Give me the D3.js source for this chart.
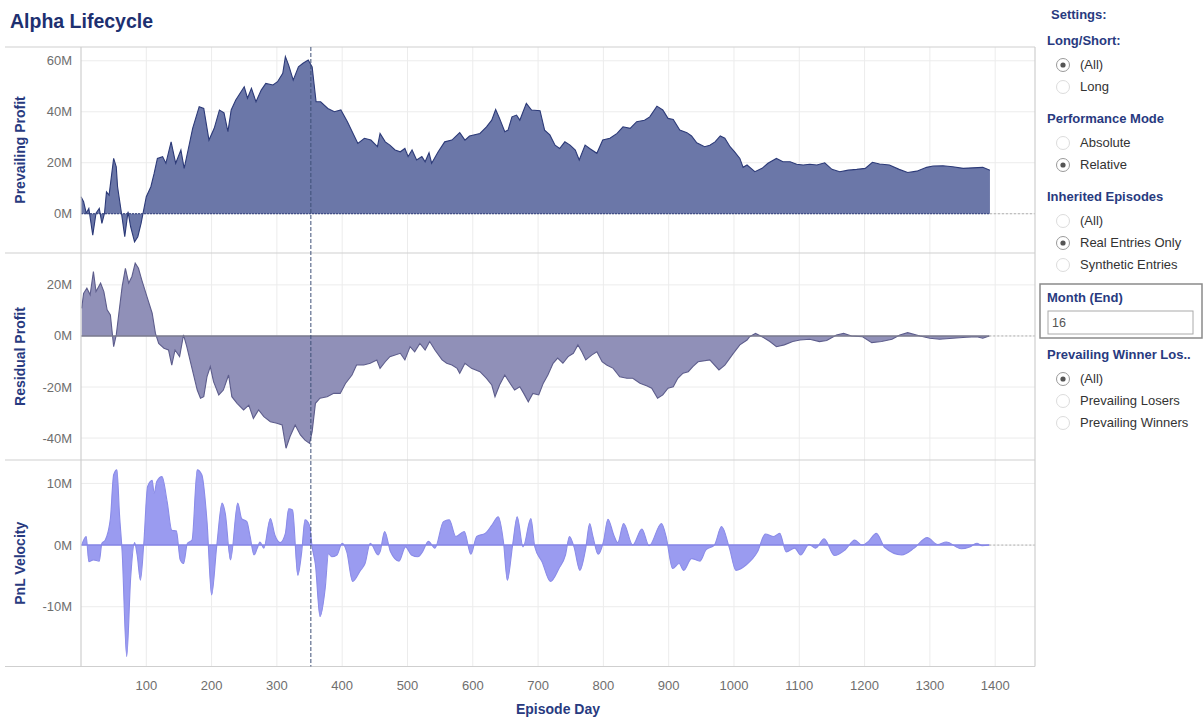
<!DOCTYPE html>
<html>
<head>
<meta charset="utf-8">
<script src="https://cdnjs.cloudflare.com/ajax/libs/d3/7.8.5/d3.min.js"></script>
<style>
  body { margin: 0; background: #fff; font-family: "Liberation Sans", Arial, sans-serif; }
</style>
</head>
<body>
<div id="chart-area"></div>
<script>
// DATA
// ****

// Prevailing Profit (M) by episode day
const profitDays = [0,4,8,12,18,23,28,32,36,39,43,50,54,56,62,67,72,76,82,87,92,100,107,112,117,125,130,138,145,153,158,164,171,181,188,196,204,212,219,225,230,237,250,255,261,268,276,283,294,301,309,313,318,325,333,340,348,354,360,367,378,388,398,408,424,434,444,454,458,466,473,481,489,496,501,507,514,522,527,533,537,547,557,568,580,588,595,611,621,629,635,641,649,654,660,667,672,682,690,703,710,718,726,733,741,749,757,763,772,779,790,799,810,821,830,841,851,863,871,882,891,899,907,917,928,935,943,955,963,971,979,986,994,1001,1009,1014,1020,1032,1043,1052,1065,1075,1086,1096,1106,1116,1127,1139,1150,1162,1175,1188,1201,1212,1223,1238,1253,1266,1280,1295,1305,1320,1335,1351,1366,1381,1392]
const profitVals = [6.7,4.7,0.2,2.1,-8.4,0.2,2.1,-3.8,0.2,8.6,7.3,21.7,18.4,10.6,0.2,-9,0.8,-5.1,-11,-9,-3.8,6.7,10.6,15.8,21.7,22.4,19.8,28.2,19.8,25,17.8,25,33.5,42,41.3,28.9,33.5,40.7,39.6,32.2,40.7,44.6,49.8,45.3,49.2,43.9,48.5,51.1,50.5,51.8,55.1,61.6,58.3,52.4,57.6,59,60.3,57.6,43.9,43.9,41.3,40,40.7,36.1,27.6,29.6,28.9,26.3,31.5,28.2,26.9,25,24.3,25.6,22.4,25,21.1,22.4,20.4,23.9,19.8,24.3,28.2,28.9,31.8,28.9,30.5,31.5,34.1,36.7,40.9,37.4,32.2,32.8,38,38.7,36.7,43.3,40.7,40.4,32.8,30.9,26.9,25.6,28.2,26.9,25,21.1,26.9,25.6,23.7,28.9,29.6,31.5,34.1,33.5,36.1,36.7,38,42.2,40.7,37.4,37,32.8,31.8,30.5,27.8,26.3,26.9,28.2,30.5,29.6,26.3,24.3,21.7,18.2,19.1,16.5,17.8,19.8,21.7,20.4,20.4,19.4,19.1,19.4,19.1,20,17.4,16.5,17.1,17.4,17.8,20.2,19.5,19.1,17.4,16.2,16.7,18.2,18.7,18.8,18.4,17.8,18,18.2,17.1]

// Residual Profit (M)
const residDays = [1,4,9,14,19,23,30,35,40,45,50,54,58,63,68,73,78,83,88,93,101,109,114,119,127,134,139,144,151,157,162,170,178,183,188,193,198,203,211,218,226,231,239,249,257,264,272,280,290,300,308,314,320,328,336,343,350,354,359,366,377,387,397,405,415,422,433,443,453,458,466,473,481,489,496,504,511,519,527,534,542,553,560,568,576,580,588,598,611,621,629,634,641,649,657,664,672,678,685,692,701,708,715,723,730,738,746,754,761,767,773,782,790,798,805,815,825,836,845,856,867,874,883,891,899,907,914,922,930,937,945,963,977,986,999,1009,1020,1024,1033,1043,1055,1065,1077,1090,1101,1116,1131,1142,1157,1168,1180,1197,1211,1226,1242,1254,1266,1285,1300,1315,1335,1356,1372,1381,1391]
const residVals = [10.8,16.7,18.7,16.1,25.2,17.4,20.7,17.4,10.2,8.2,-4.2,0.4,8.9,19.3,26.5,20.7,23.3,28.5,26.5,22,15.4,8.9,1,-2.9,-4.8,-5.5,-11.4,-5.5,-8.1,0.4,-4.2,-12.7,-21.2,-24.4,-23.8,-15.9,-12,-17.9,-23.1,-21.2,-15.3,-23.8,-26.4,-29,-27.1,-32.3,-29,-31.6,-33.6,-34.2,-34.9,-44,-39.5,-34.9,-38.8,-40.8,-42.1,-37.5,-26.4,-24.4,-23.8,-22.5,-22.5,-18.6,-15.3,-11.4,-11.4,-10.7,-9.4,-12.7,-10.1,-8.1,-7.5,-6.8,-9.4,-4.2,-6.2,-2.9,-5.5,-2.2,-5.5,-9.4,-10.7,-11.4,-12.7,-14.6,-10.7,-12.7,-14,-16.6,-19.2,-23.8,-19.2,-15.3,-18.5,-21.2,-19.9,-22.5,-25.8,-22.5,-23.1,-18.5,-15.3,-10.7,-8.7,-10.7,-8.1,-6.8,-3.5,-6.2,-9.4,-7.5,-6.2,-10.1,-11.4,-12.7,-16,-16.6,-16.6,-18.5,-19.6,-20.5,-24.4,-23.1,-20.5,-19.9,-16.6,-14.6,-14,-12,-10.1,-9.4,-13.3,-11.4,-6.8,-3.5,-1.6,-0.3,1,-0.3,-2.2,-4.2,-3.5,-2.2,-1.6,-1.3,-2.2,-1.8,0.4,1,0,-0.3,-2.6,-2.2,-1.3,0.4,1.3,0,-0.9,-1.3,-0.9,-0.5,-0.3,-0.9,0]

// PnL Velocity (M)
const velDays = [1,8,12,19,28,32,37,45,50,55,59,63,70,76,82,86,91,96,102,109,112,116,124,132,139,146,152,157,163,170,178,185,193,200,208,216,221,229,240,246,254,259,265,270,274,280,290,297,305,313,318,324,332,338,343,350,354,359,366,374,379,384,392,400,407,416,428,435,443,455,458,465,474,487,497,506,516,523,532,542,555,564,574,587,597,606,619,629,639,647,653,661,668,677,689,695,706,719,732,742,748,755,764,773,779,784,792,800,807,816,822,831,845,859,870,889,896,906,916,923,935,948,957,970,981,993,1003,1019,1036,1048,1061,1070,1080,1093,1102,1115,1125,1138,1154,1170,1185,1196,1206,1218,1231,1257,1276,1296,1312,1325,1348,1361,1372,1380,1391]
const velVals = [0,1.4,-2.7,-2.4,-2.6,0.3,0.8,4.3,11.4,12.2,4.9,-1.1,-18.1,-5.4,0.4,-1.6,-5.7,0,9.5,10.5,8.4,10.3,11.1,7,2.4,2.3,-2.4,-3,0.3,0.8,12.2,11.4,3.8,-8.1,0,6.8,5.1,-2.4,6.8,4.3,3.8,1.4,-1.6,-0.5,0.5,-0.5,4.3,1.6,0.4,1.9,5.9,5.7,-4.9,-1.1,4.1,3.2,-0.3,-3.2,-11.6,-7,-1.4,-1.9,-1.6,0.3,-1.1,-5.9,-4.1,-3,0.3,-1.6,-1.1,2.2,-1.1,-2.6,-0.3,-1.6,-1.9,-1.1,0.6,-0.5,3.8,4.1,1.4,2.2,-1.5,1.4,1.9,3.2,4.6,0.5,-5.7,0,4.6,-0.3,4.3,-0.3,-2.7,-5.9,-3.8,-1.6,1.4,-0.3,-4.1,-0.5,3.5,1.4,-1.5,0.5,4.2,1.6,0.4,3.5,0,2.6,-0.1,3.5,1.4,-3.8,-3,-4.1,-2.2,-2.6,-0.8,0,3,-0.5,-4.1,-3.2,-1.1,1.8,1.4,1.9,-1.1,-0.5,-1.6,0.1,-0.5,1,-1.7,-0.8,0.8,0,0.6,1.9,-0.4,-1.6,-0.5,1.2,0.1,0.5,-0.6,-0.3,0.3,-0.1,0]

const xTicks = [100,200,300,400,500,600,700,800,900,1000,1100,1200,1300,1400]
const markerDay = 352

// settings panel
const settingGroups = [
  { title: "Long/Short:", options: ["(All)", "Long"], selected: 0 },
  { title: "Performance Mode", options: ["Absolute", "Relative"], selected: 1 },
  { title: "Inherited Episodes", options: ["(All)", "Real Entries Only", "Synthetic Entries"], selected: 1 },
  { title: "Prevailing Winner Los..", options: ["(All)", "Prevailing Losers", "Prevailing Winners"], selected: 0 }
]

// CHART
// *****

const W = 1204, H = 717
const left = 81, right = 1035, bottom = 666.5
const svg = d3.select("#chart-area").append("svg").attr("width", W).attr("height", H)
const font = "Liberation Sans, Arial, sans-serif"
const navy = "#283a80"

const x = d3.scaleLinear().domain([0, 1461]).range([left, right])

const panels = [
  { name: "Prevailing Profit", days: profitDays, vals: profitVals, top: 47, bot: 253,
    domain: [-15.4, 65.4], ticks: [0, 20, 40, 60], fill: "#6b77a8", stroke: "#2c3a78",
    zero: "#2c3a78", zeroDash: "2,1", curve: d3.curveLinear },
  { name: "Residual Profit", days: residDays, vals: residVals, top: 253, bot: 460,
    domain: [-48.6, 32.5], ticks: [-40, -20, 0, 20], fill: "#9090b8", stroke: "#5d5d8c",
    zero: "#7a7a8e", zeroDash: null, curve: d3.curveLinear },
  { name: "PnL Velocity", days: velDays, vals: velVals, top: 460, bot: bottom,
    domain: [-19.7, 13.8], ticks: [-10, 0, 10], fill: "#9a9bf0", stroke: "#8b8ce8",
    zero: "#8485e6", zeroDash: null, curve: d3.curveMonotoneX }
]

// title
svg.append("text").attr("x", 10).attr("y", 28).text("Alpha Lifecycle")
  .attr("font-family", font).attr("font-size", 19.5).attr("font-weight", "bold").attr("fill", "#1d3070")

// vertical grid
svg.selectAll(".vgrid").data(xTicks).enter().append("line")
  .attr("x1", d => x(d)).attr("x2", d => x(d))
  .attr("y1", 47).attr("y2", bottom)
  .attr("stroke", "#ececec").attr("stroke-width", 1)

panels.forEach(p => {
  const y = d3.scaleLinear().domain(p.domain).range([p.bot, p.top])
  const g = svg.append("g")

  // horizontal grid
  g.selectAll("line.h").data(p.ticks).enter().append("line")
    .attr("x1", left).attr("x2", right)
    .attr("y1", d => y(d)).attr("y2", d => y(d))
    .attr("stroke", "#ececec")

  // y axis labels
  g.selectAll("text.t").data(p.ticks).enter().append("text")
    .attr("x", 72).attr("y", d => y(d) + 4.5)
    .attr("text-anchor", "end").text(d => d + "M")
    .attr("font-family", font).attr("font-size", 13).attr("fill", "#6e6e6e")

  // axis title
  g.append("text")
    .attr("transform", `translate(25,${(p.top + p.bot) / 2}) rotate(-90)`)
    .attr("text-anchor", "middle").text(p.name)
    .attr("font-family", font).attr("font-size", 14).attr("font-weight", "bold").attr("fill", navy)

  const pts = p.days.map((d, i) => [d, p.vals[i]])
  const area = d3.area().x(d => x(d[0])).y0(y(0)).y1(d => y(d[1])).curve(p.curve)
  const line = d3.line().x(d => x(d[0])).y(d => y(d[1])).curve(p.curve)

  g.append("path").attr("d", area(pts)).attr("fill", p.fill)
  g.append("path").attr("d", line(pts)).attr("fill", "none")
    .attr("stroke", p.stroke).attr("stroke-width", 1.1)

  // zero line
  const lastDay = d3.max(p.days)
  g.append("line").attr("x1", left).attr("x2", x(lastDay))
    .attr("y1", y(0)).attr("y2", y(0))
    .attr("stroke", p.zero).attr("stroke-width", p.zeroDash ? 1 : 1.5)
    .attr("stroke-dasharray", p.zeroDash)
  g.append("line").attr("x1", x(lastDay)).attr("x2", right)
    .attr("y1", y(0)).attr("y2", y(0))
    .attr("stroke", "#b0b0b0").attr("stroke-width", 1).attr("stroke-dasharray", "2,2")
})

// panel borders
;[47, 253, 460, bottom].forEach(yy => {
  svg.append("line").attr("x1", 5).attr("x2", right).attr("y1", yy).attr("y2", yy)
    .attr("stroke", "#cfcfcf").attr("stroke-width", 1.2)
})
svg.append("line").attr("x1", left).attr("x2", left).attr("y1", 47).attr("y2", bottom)
  .attr("stroke", "#cfcfcf").attr("stroke-width", 1.2)
svg.append("line").attr("x1", right).attr("x2", right).attr("y1", 47).attr("y2", bottom)
  .attr("stroke", "#cfcfcf").attr("stroke-width", 1.2)

// marker line
svg.append("line").attr("x1", x(markerDay)).attr("x2", x(markerDay))
  .attr("y1", 47).attr("y2", bottom)
  .attr("stroke", "#3e5078").attr("stroke-width", 1).attr("stroke-dasharray", "4,2")

// x axis labels
svg.selectAll(".xt").data(xTicks).enter().append("text")
  .attr("x", d => x(d)).attr("y", 690).attr("text-anchor", "middle").text(d => d)
  .attr("font-family", font).attr("font-size", 13).attr("fill", "#6e6e6e")
svg.append("text").attr("x", 558).attr("y", 714).attr("text-anchor", "middle").text("Episode Day")
  .attr("font-family", font).attr("font-size", 14).attr("font-weight", "bold").attr("fill", navy)

// SETTINGS PANEL
// **************

const side = svg.append("g").attr("font-family", font)
side.append("text").attr("x", 1051).attr("y", 19).text("Settings:")
  .attr("font-size", 13).attr("font-weight", "bold").attr("fill", navy)

function radioGroup(grp, y0) {
  side.append("text").attr("x", 1047).attr("y", y0).text(grp.title)
    .attr("font-size", 13).attr("font-weight", "bold").attr("fill", navy)
  grp.options.forEach((o, i) => {
    const cy = y0 + 24 + i * 22
    side.append("circle").attr("cx", 1063).attr("cy", cy - 4).attr("r", 6.5)
      .attr("fill", "#fff").attr("stroke", i === grp.selected ? "#9a9a9a" : "#dcdcdc")
    if (i === grp.selected)
      side.append("circle").attr("cx", 1063).attr("cy", cy - 4).attr("r", 2.6).attr("fill", "#555")
    side.append("text").attr("x", 1080).attr("y", cy).text(o)
      .attr("font-size", 13).attr("fill", "#333")
  })
}
radioGroup(settingGroups[0], 45)
radioGroup(settingGroups[1], 123)
radioGroup(settingGroups[2], 201)
radioGroup(settingGroups[3], 359)

// month box
side.append("rect").attr("x", 1040).attr("y", 284).attr("width", 162).attr("height", 54)
  .attr("fill", "none").attr("stroke", "#8a8a8a").attr("stroke-width", 1.5)
side.append("text").attr("x", 1047).attr("y", 302).text("Month (End)")
  .attr("font-size", 13).attr("font-weight", "bold").attr("fill", navy)
side.append("rect").attr("x", 1048).attr("y", 311).attr("width", 145).attr("height", 23)
  .attr("fill", "#fff").attr("stroke", "#aaa")
side.append("text").attr("x", 1052).attr("y", 327).text("16")
  .attr("font-size", 12.5).attr("fill", "#555")
</script>
</body>
</html>
